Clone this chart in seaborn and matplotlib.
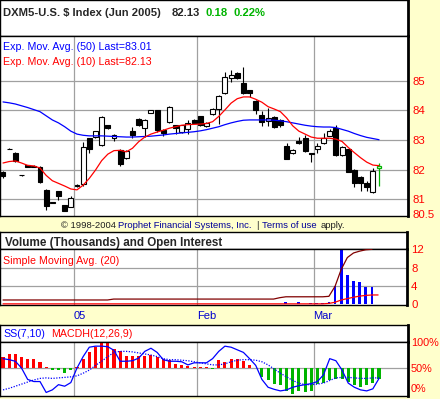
import numpy as np
import pandas as pd
import matplotlib.pyplot as plt
import seaborn as sns

# Data (daily bars, mid-Dec 2004 .. mid-Mar 2005)
opens = [81.92, 82.71, 82.56, 81.82, 82.14, 82.13, 82.10, 81.31, 80.89, 81.27,
         80.79, 80.73, 81.48, 81.51, 83.07, 83.10, 82.83, 83.50, 83.07, 82.66,
         82.39, 83.30, 83.71, 83.41, 83.92, 84.00, 83.35, 83.61, 83.50, 83.27,
         83.37, 83.68, 83.81, 83.47, 83.88, 84.05, 84.59, 85.10, 85.27, 84.93,
         84.69, 84.32, 83.85, 83.64, 83.78, 83.68, 82.80, 82.56, 82.97, 83.07,
         82.55, 82.69, 82.90, 83.14, 83.40, 82.49, 82.69, 82.00, 81.75, 81.54,
         81.24, 82.05]
highs = [81.94, 82.72, 82.58, 81.83, 82.15, 82.14, 82.12, 81.33, 80.90, 81.28,
         80.80, 81.10, 81.50, 82.93, 83.08, 83.32, 83.80, 83.52, 83.19, 82.68,
         82.65, 83.44, 83.73, 83.70, 84.02, 84.02, 83.37, 84.15, 83.52, 83.52,
         83.68, 83.70, 83.83, 83.60, 84.07, 84.51, 85.30, 85.37, 85.29, 85.47,
         84.71, 84.34, 83.98, 84.10, 83.80, 83.70, 82.90, 82.68, 83.10, 83.17,
         82.57, 82.90, 83.24, 83.38, 83.50, 82.78, 82.71, 82.02, 81.77, 81.60,
         82.05, 82.22]
lows = [81.72, 82.68, 82.25, 81.79, 82.09, 82.08, 81.55, 80.63, 80.86, 80.97,
        80.58, 80.72, 81.42, 81.45, 82.56, 83.08, 82.80, 83.38, 82.97, 82.12,
        82.37, 83.07, 83.49, 83.10, 83.90, 83.27, 83.14, 83.59, 83.20, 83.25,
        83.20, 83.56, 83.49, 83.45, 83.86, 83.54, 84.57, 84.97, 85.08, 84.57,
        84.45, 83.88, 83.47, 83.47, 83.42, 83.45, 82.34, 82.54, 82.88, 82.60,
        82.25, 82.56, 82.88, 83.12, 82.45, 82.47, 81.90, 81.41, 81.27, 81.27,
        81.22, 81.44]
closes = [81.78, 82.69, 82.29, 81.80, 82.10, 82.09, 81.58, 80.76, 80.87, 81.10,
          80.60, 81.03, 81.43, 82.76, 82.69, 83.30, 83.78, 83.40, 83.17, 82.19,
          82.63, 83.17, 83.51, 83.68, 84.00, 83.35, 83.25, 84.12, 83.40, 83.50,
          83.58, 83.58, 83.51, 83.58, 84.05, 84.49, 85.14, 85.20, 85.10, 84.59,
          84.59, 84.02, 83.61, 83.75, 83.44, 83.50, 82.36, 82.66, 82.90, 82.63,
          82.51, 82.80, 83.07, 83.30, 82.49, 82.76, 81.92, 81.54, 81.54, 81.41,
          81.95, 82.13]
ema50 = [84.29, 84.26, 84.22, 84.16, 84.10, 84.03, 83.96, 83.82, 83.68, 83.58,
         83.45, 83.30, 83.20, 83.16, 83.14, 83.14, 83.14, 83.13, 83.12, 83.11,
         83.10, 83.10, 83.11, 83.12, 83.13, 83.15, 83.17, 83.20, 83.22, 83.24,
         83.26, 83.28, 83.31, 83.35, 83.40, 83.45, 83.52, 83.58, 83.63, 83.67,
         83.68, 83.68, 83.68, 83.68, 83.67, 83.65, 83.62, 83.58, 83.54, 83.50,
         83.47, 83.45, 83.44, 83.44, 83.42, 83.36, 83.30, 83.22, 83.15, 83.09,
         83.05, 83.01]
ema10 = [82.22, 82.27, 82.29, 82.22, 82.14, 82.12, 82.05, 81.80, 81.62, 81.53,
         81.44, 81.34, 81.31, 81.47, 81.70, 81.98, 82.30, 82.52, 82.64, 82.65,
         82.60, 82.72, 82.94, 83.10, 83.20, 83.27, 83.33, 83.40, 83.45, 83.50,
         83.52, 83.53, 83.54, 83.56, 83.62, 83.80, 84.02, 84.25, 84.40, 84.46,
         84.46, 84.38, 84.28, 84.13, 84.05, 83.96, 83.75, 83.48, 83.30, 83.20,
         83.10, 83.06, 83.06, 83.06, 83.03, 82.95, 82.75, 82.57, 82.40, 82.25,
         82.15, 82.13]
volume = [0] * 46 + [0.5, 0, 0.5, 0, 0.3, 0.3, 0.3, 0.4, 4.0, 12.5, 6.4, 5.1,
                     4.9, 3.85, 3.85, 0]
open_int = [0.9] * 18 + [1.1] * 27 + [1.4, 1.6, 1.6, 1.6, 1.6, 1.6, 1.6, 1.6,
                                      1.7, 3.9, 7.6, 10.2, 11.2, 11.6, 11.9,
                                      12.0, np.nan]
vol_sma20 = [0.05] * 53 + [0.15, 0.4, 0.9, 1.2, 1.5, 1.75, 1.9, 2.0, 2.0]
ss_fast = [68, 66, 63, 50, 28, 24, 24, 3, 8, 18, 15, 22, 50, 72, 90, 92, 92,
           91, 84, 63, 63, 64, 69, 82, 88, 80, 66, 63, 63, 62, 56, 60, 60, 60,
           68, 82, 92, 90, 85, 80, 68, 55, 28, 13, 9, 6, 8, 13, 16, 18, 20, 24,
           37, 68, 64, 46, 21, 13, 8, 6, 10, 30]
ss_slow = [8, 11, 15, 19, 23, 27, 30, 31, 30, 31, 32, 33, 35, 40, 46, 55, 63,
           72, 80, 82, 82, 81, 79, 77, 75, 72, 68, 66, 66, 65, 64, 62, 60, 58,
           56, 56, 58, 62, 65, 66, 66, 65, 62, 56, 48, 40, 33, 26, 21, 18, 18,
           19, 21, 26, 31, 32, 32, 31, 30, 30, 31, 31]
# MACD histogram, in units of the oscillator axis, drawn around the 50% line
macdh = [21.2, 26.3, 26.3, 21.2, 17.9, 16.7, 11.5, 1.0, -3.8, -3.8,
         -9.6, -3.8, 1.0, 17.9, 30.8, 40.4, 50.0, 50.0, 37.1, 32.1,
         22.5, 23.1, 22.5, 22.5, 24.4, 21.2, 17.9, 16.0, 8.3, 5.8,
         3.8, 2.9, 1.9, 1.0, -1.0, 15.4, 11.5, 17.9, 17.9, 12.9,
         5.2, 0.0, -17.3, -23.7, -31.3, -33.3, -44.2, -49.4, -44.2, -46.2,
         -44.2, -30.2, -28.8, -23.7, -20.6, -20.6, -26.9, -33.3, -36.5, -33.3,
         -28.8, -20.6]
month_labels = ['05', 'Feb', 'Mar']
month_first_bar = [12, 32, 51]
price_ticks = [80.5, 81, 82, 83, 84, 85]
vol_ticks = [0, 4, 8, 12]
osc_ticks = [0, 50, 100]

sns.set_theme(style="white")
plt.rcParams['font.family'] = ['Liberation Sans', 'DejaVu Sans']

BG = '#FFFFCC'
GRID = '#A0A0A0'
BLUE = '#0000FF'
RED = '#FF0000'
GREEN = '#00B400'
NAVY = '#000099'

W, H = 440, 399
fig = plt.figure(figsize=(W / 100, H / 100), dpi=100, facecolor=BG)


def box(x0, y0, x1, y1):
    return [x0 / W, 1 - y1 / H, (x1 - x0) / W, (y1 - y0) / H]


def frame(ax):
    ax.set_facecolor('white')
    for side, sp in ax.spines.items():
        sp.set_visible(True)
        sp.set_color('black')
        sp.set_linewidth(2 if side == 'right' else 1)


n = len(closes)
df = pd.DataFrame({'bar': np.arange(n), 'open': opens, 'high': highs,
                   'low': lows, 'close': closes, 'ema50': ema50,
                   'ema10': ema10, 'volume': volume, 'oi': open_int,
                   'vsma': vol_sma20, 'ss_fast': ss_fast,
                   'ss_slow': ss_slow, 'macdh': macdh})
XL = (-0.49, 65.7)
grid_x = [m - 0.5 for m in month_first_bar]

# header boxes
for rect in [(0, 0, 408, 36), (0, 232, 407, 249), (0, 325, 408, 342)]:
    axh = fig.add_axes(box(*rect))
    frame(axh)
    axh.set_xticks([])
    axh.set_yticks([])

# price panel
ax_p = fig.add_axes(box(0, 36, 408, 216))
frame(ax_p)
ax_p.set_xlim(*XL)
ax_p.set_ylim(80.424, 86.525)
for g in price_ticks[1:]:
    ax_p.axhline(g, color=GRID, lw=0.9, zorder=0)
for g in grid_x:
    ax_p.axvline(g, color=GRID, lw=0.9, zorder=0)

hist = df.iloc[:-1]
last = df.iloc[-1:]
up = hist[hist.close >= hist.open]
dn = hist[hist.close < hist.open]
ax_p.vlines(hist.bar, hist.low, hist.high, color='black', lw=0.8, zorder=2)
ax_p.bar(up.bar, (up.close - up.open).clip(lower=0.015), bottom=up.open,
         width=0.8, color='white', edgecolor='black', lw=0.8, zorder=3)
ax_p.bar(dn.bar, (dn.open - dn.close).clip(lower=0.015), bottom=dn.close,
         width=0.8, color='black', edgecolor='black', lw=0.8, zorder=3)
ax_p.vlines(last.bar, last.low, last.high, color=GREEN, lw=0.9, zorder=2)
ax_p.bar(last.bar, last.close - last.open, bottom=last.open, width=0.8,
         color='white', edgecolor=GREEN, lw=0.9, zorder=3)

sns.lineplot(data=df, x='bar', y='ema50', ax=ax_p, color=BLUE, lw=0.9, zorder=4)
sns.lineplot(data=df, x='bar', y='ema10', ax=ax_p, color=RED, lw=0.9, zorder=4)

ax_p.set_xticks(grid_x)
ax_p.set_xticklabels([])
ax_p.yaxis.tick_right()
ax_p.set_yticks(price_ticks)
ax_p.set_yticklabels(['80.5', '81', '82', '83', '84', '85'])

# volume panel
ax_v = fig.add_axes(box(0, 249, 407, 305))
frame(ax_v)
ax_v.set_xlim(*XL)
ax_v.set_ylim(-0.2, 12.07)
for g in vol_ticks[1:-1]:
    ax_v.axhline(g, color=GRID, lw=0.9, zorder=0)
for g in grid_x:
    ax_v.axvline(g, color=GRID, lw=0.9, zorder=0)
ax_v.bar(df.bar, df.volume, width=0.45, color=BLUE, lw=0, zorder=2)
sns.lineplot(data=df, x='bar', y='oi', ax=ax_v, color='#800000', lw=0.9, zorder=3)
sns.lineplot(data=df, x='bar', y='vsma', ax=ax_v, color=RED, lw=0.9, zorder=3)
ax_v.yaxis.tick_right()
ax_v.set_yticks(vol_ticks)
ax_v.set_xticks(grid_x)
ax_v.set_xticklabels(month_labels)
for lab in ax_v.get_xticklabels():
    lab.set_ha('left')
ax_v.tick_params(axis='x', length=0, pad=4, labelsize=8, labelcolor='#0000CC')

# oscillator panel
ax_o = fig.add_axes(box(0, 342, 408, 396))
frame(ax_o)
ax_o.set_xlim(*XL)
ax_o.set_ylim(-3.8, 100)
ax_o.axhline(50, color=GRID, lw=0.9, zorder=0)
for g in grid_x:
    ax_o.axvline(g, color=GRID, lw=0.9, zorder=0)
pos = df[df.macdh >= 0]
neg = df[df.macdh < 0]
ax_o.bar(pos.bar, pos.macdh.clip(lower=0.8), bottom=50, width=0.5, color=RED, lw=0, zorder=2)
ax_o.bar(neg.bar, neg.macdh.clip(upper=-0.8), bottom=50, width=0.5, color=GREEN, lw=0, zorder=2)
sns.lineplot(data=df, x='bar', y='ss_slow', ax=ax_o, color=BLUE, lw=0.9,
             linestyle=(0, (1, 1.2)), zorder=3)
sns.lineplot(data=df, x='bar', y='ss_fast', ax=ax_o, color=BLUE, lw=0.9, zorder=3)
ax_o.yaxis.tick_right()
ax_o.set_yticks(osc_ticks)
ax_o.set_yticklabels(['0%', '50%', '100%'])
ax_o.set_xticks(grid_x)
ax_o.set_xticklabels([])

for ax in (ax_p, ax_v, ax_o):
    ax.set_xlabel('')
    ax.set_ylabel('')
    ax.tick_params(axis='y', length=0, pad=3, labelsize=8.2, labelcolor=RED)
    ax.tick_params(axis='x', length=0)
ax_o.tick_params(axis='y', pad=2, labelsize=7.8)
# keep the 0% label inside the picture
ax_o.get_yticklabels()[0].set_va('bottom')

# texts in pixel coordinates
ax_t = fig.add_axes([0, 0, 1, 1], zorder=10)
ax_t.set_xlim(0, W)
ax_t.set_ylim(H, 0)
ax_t.axis('off')
ax_t.patch.set_alpha(0)

ax_t.text(3, 12.5, 'DXM5-U.S. $ Index (Jun 2005)', fontsize=8.1, fontweight='bold', va='center')
ax_t.text(172, 12.5, '82.13', fontsize=8.1, fontweight='bold', va='center')
ax_t.text(205, 12.5, '0.18', fontsize=8.1, fontweight='bold', va='center', color=GREEN)
ax_t.text(234, 12.5, '0.22%', fontsize=8.1, fontweight='bold', va='center', color=GREEN)
ax_t.text(3, 47, 'Exp. Mov. Avg. (50) Last=83.01', fontsize=7.7, va='center', color=BLUE)
ax_t.text(3, 62, 'Exp. Mov. Avg. (10) Last=82.13', fontsize=7.7, va='center', color=RED)

ax_t.text(61, 226, '\u00a9 1998-2004', fontsize=6.8, va='center', color='#202020')
ax_t.text(118, 226, 'Prophet Financial Systems, Inc.', fontsize=6.8, va='center', color=NAVY)
ax_t.text(256, 226, '|', fontsize=6.8, va='center', color='#202020')
ax_t.text(262, 226, 'Terms of use', fontsize=6.8, va='center', color=NAVY)
ax_t.text(321, 226, 'apply.', fontsize=6.8, va='center', color='#202020')

ax_t.text(5, 243, 'Volume (Thousands) and Open Interest', fontsize=8.4, fontweight='bold', va='center')
ax_t.text(3, 260.5, 'Simple Moving Avg. (20)', fontsize=7.7, va='center', color=RED)
ax_t.text(3, 334, 'SS(7,10)', fontsize=7.7, va='center', color=BLUE)
ax_t.text(51, 334, 'MACDH(12,26,9)', fontsize=7.7, va='center', color=RED)

fig.savefig('out.png', dpi=100, facecolor=BG)
